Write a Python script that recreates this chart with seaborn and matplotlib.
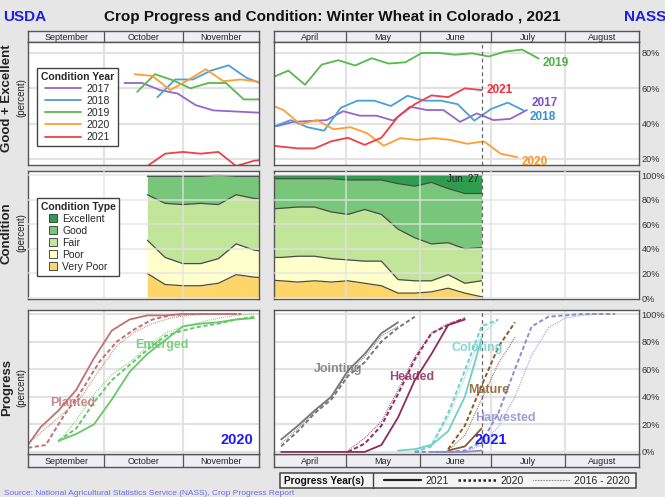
import numpy as np
import pandas as pd
import matplotlib.pyplot as plt
import seaborn as sns
from matplotlib.lines import Line2D
from matplotlib.patches import Patch, Rectangle

# Day numbers: fall side counts from Sep 1, spring side from Apr 1.
# Every series is weekly: (day of first report, weekly values in percent).

years = ['2017', '2018', '2019', '2020', '2021']
year_colors = ['#9467c9', '#4a9fd8', '#57b94c', '#ff9d33', '#ec4148']

# Good + Excellent for earlier crop years
ge_fall_2017 = (38, [63, 63, 59, 57, 50.5, 47.5, 47, 46.5, 46])
ge_fall_2018 = (51, [55, 65, 65, 70, 73, 66, 62])
ge_fall_2019 = (43, [58, 68, 64.6, 60, 63, 63, 53.7, 53.7])
ge_fall_2020 = (42, [68, 67, 59, 64.6, 70.8, 64, 65, 63.7])

ge_spring_2017 = (1, [38.5, 41, 41.5, 42, 47, 44.5, 44.5, 41.7, 49.6, 47.7, 47.7, 41, 45.8, 42, 42.7, 47.7])
ge_spring_2018 = (0, [38.4, 42, 38, 36, 49, 53, 53, 50, 55.8, 53, 53, 51, 41.7, 48.3, 51.9, 47.2])
ge_spring_2019 = (-1, [66, 70, 62, 73.4, 75.9, 72.9, 77, 74, 74.7, 80, 80, 79, 79.8, 78, 80.8, 81.9, 76.8])
ge_spring_2020 = (-3, [51.4, 47.7, 39.7, 42, 36.8, 38, 34.6, 27.5, 31.8, 30.8, 31.8, 30.8, 28.6, 30, 23, 21])

# 2021 crop condition (the 2021 Good + Excellent line is Excellent + Good)
cond_types = ['Excellent', 'Good', 'Fair', 'Poor', 'Very Poor']
cond_colors = ['#2e9e4e', '#78c679', '#c2e699', '#ffffcc', '#fdd56b']

cond_fall_start = 47
cond_fall_exc = [1, 1, 1, 1, 0, 1, 1, 1]
cond_fall_good = [15, 22, 23, 22, 24, 15, 18, 19]
cond_fall_fair = [37, 44, 48, 49, 44, 40, 42, 43]
cond_fall_poor = [27, 22, 18, 18, 20, 25, 22, 21]
cond_fall_vp = [20, 11, 10, 10, 12, 19, 17, 16]

cond_spring_start = -4
cond_spring_exc = [3, 3, 3, 3, 3, 4, 4, 4, 7, 9, 6, 11, 15, 15]
cond_spring_good = [25, 24, 23, 23, 27, 28, 24, 28, 37, 42, 50, 44, 45, 44]
cond_spring_fair = [39, 40, 40, 40, 38, 37, 42, 38, 41, 35, 30, 26, 28, 27]
cond_spring_poor = [18, 19, 21, 20, 19, 17, 18, 20, 11, 10, 9, 11, 8, 13]
cond_spring_vp = [15, 14, 13, 14, 13, 14, 12, 10, 4, 4, 5, 8, 4, 1]

# Progress
periods = ['2021', '2020', '2016 - 2020']
stage_colors = {'Planted': '#c07272', 'Emerged': '#66c866', 'Jointing': '#777777',
                'Headed': '#8e2c5c', 'Coloring': '#6fcfc9', 'Mature': '#8a5a2a',
                'Harvested': '#8c8cd0'}

planted_2021 = (-2, [0, 18, 30, 45, 68, 88, 96, 99, 99, 100, 100, 100, 100])
planted_2020 = (0, [3, 5, 26, 44, 65, 80, 89, 96, 99, 100, 100, 100, 100])
planted_avg = (0, [6, 17, 28, 40, 59, 77, 87, 93, 97, 99, 100, 100, 100])
emerged_2021 = (12, [8, 13, 20, 38, 58, 71, 81, 91, 93, 94, 96, 97])
emerged_2020 = (12, [8, 17, 36, 52, 63, 74, 84, 88, 91, 93, 96, 98])
emerged_avg = (12, [7, 23, 42, 56, 65, 76, 86, 91, 94, 97, 99, 100])

jointing_2021 = (3, [9, 19, 30, 40, 59, 71, 86, 94])
jointing_2020 = (3, [4, 15, 28, 38, 55, 65, 80, 90, 98])
jointing_avg = (3, [6, 17, 29, 40, 57, 69, 84, 91])
headed_2021 = (3, [0, 0, 0, 0, 0, 0, 5, 25, 52, 71, 92, 96])
headed_2020 = (31, [0, 6, 19, 42, 67, 86, 92, 97])
headed_avg = (31, [1, 10, 22, 45, 69, 86, 93, 97])
coloring_2021 = (52, [1, 2, 5, 15, 40, 82])
coloring_2020 = (59, [0, 4, 28, 59, 91, 96])
coloring_avg = (59, [1, 6, 25, 54, 85, 96])
mature_2021 = (73, [1, 4, 17])
mature_2020 = (73, [2, 19, 48, 76, 94])
mature_avg = (73, [1, 12, 38, 64, 83])
harvested_2021 = (66, [0, 0, 0, 1])
harvested_2020 = (59, [0, 0, 0, 1, 7, 28, 60, 91, 98, 99, 100, 100, 100])
harvested_avg = (80, [0, 5, 18, 40, 70, 90, 97, 99, 100])

last_report_day = 87  # Jun. 27

# ---------------------------------------------------------------------------
sns.set_style('white')
plt.rcParams['font.family'] = ['Liberation Sans', 'DejaVu Sans']

W, H = 665, 497
BG = '#e6e6e6'
EDGE = '#555555'
GRID = '#e2e2e2'

FALL = dict(x0=28, x1=259, span=91, edges=[0, 30, 61, 91],
            months=['September', 'October', 'November'])
SPRING = dict(x0=274, x1=639, span=153, edges=[0, 30, 61, 91, 122, 153],
              months=['April', 'May', 'June', 'July', 'August'])

fig = plt.figure(figsize=(W / 100, H / 100), dpi=100, facecolor=BG)


def box(x0, y0, x1, y1):
    return [x0 / W, 1 - y1 / H, (x1 - x0) / W, (y1 - y0) / H]


def long_frame(series, key):
    rows = []
    for name, (start, vals) in series.items():
        for i, v in enumerate(vals):
            rows.append({'day': start + 7 * i, 'pct': v, key: name})
    return pd.DataFrame(rows)


def long_progress(series):
    rows = []
    for (stage, period), (start, vals) in series.items():
        for i, v in enumerate(vals):
            rows.append({'day': start + 7 * i, 'pct': v, 'stage': stage, 'period': period})
    return pd.DataFrame(rows)


def month_strip(side, y0, y1):
    ax = fig.add_axes(box(side['x0'], y0, side['x1'], y1))
    ax.set_facecolor('#eeeef3')
    ax.set_xlim(0, side['span'])
    ax.set_ylim(0, 1)
    ax.set_xticks([])
    ax.set_yticks([])
    for e in side['edges'][1:-1]:
        ax.axvline(e, color=EDGE, lw=0.9)
    for a, b, m in zip(side['edges'][:-1], side['edges'][1:], side['months']):
        ax.text((a + b) / 2, 0.45, m, ha='center', va='center', fontsize=6.5, color='#222222')
    for s in ax.spines.values():
        s.set_color(EDGE)
        s.set_linewidth(1.0)


def style_panel(ax, side, ylim, yticks, labels, on_top=False):
    ax.set_xlim(0, side['span'])
    ax.set_ylim(*ylim)
    ax.set_xticks(side['edges'][1:-1])
    ax.set_yticks(yticks)
    ax.set_xlabel('')
    ax.set_ylabel('')
    ax.yaxis.tick_right()
    ax.tick_params(axis='x', length=0, labelbottom=False)
    ax.tick_params(axis='y', length=0, pad=2, labelsize=6.6, labelcolor='#333333',
                   labelright=labels, labelleft=False)
    if labels:
        ax.set_yticklabels([f'{t}%' for t in yticks])
    ax.set_axisbelow(not on_top)
    ax.grid(True, color=GRID, lw=1.5, alpha=0.65 if on_top else 1)
    for s in ax.spines.values():
        s.set_color(EDGE)
        s.set_linewidth(1.0)


def draw_condition(ax, start, layers):
    days = start + 7 * np.arange(len(layers[0]))
    tops = np.cumsum(np.vstack(layers), axis=0)
    bottoms = np.vstack([np.zeros(len(days)), tops[:-1]])
    for b, t, c in zip(bottoms, tops, cond_colors[::-1]):
        ax.fill_between(days, b, t, color=c, lw=0)
    for t in tops:
        ax.plot(days, t, color='#4a4a4a', lw=0.9)


ge_fall_2021 = (cond_fall_start, list(np.add(cond_fall_exc, cond_fall_good)))
ge_spring_2021 = (cond_spring_start, list(np.add(cond_spring_exc, cond_spring_good)))

# --- header ---
fig.text(0.5, 1 - 17 / H, 'Crop Progress and Condition: Winter Wheat in Colorado , 2021',
         ha='center', va='center', fontsize=11, weight='bold', color='#111111')
fig.text(3 / W, 1 - 17 / H, 'USDA', ha='left', va='center', fontsize=11, weight='bold', color='#1f1fe0')
fig.text(624 / W, 1 - 17 / H, 'NASS', ha='left', va='center', fontsize=11, weight='bold', color='#1f1fe0')

for side in (FALL, SPRING):
    month_strip(side, 31, 42)
    month_strip(side, 454, 467)

# --- row 1: Good + Excellent ---
ge_ylim = (16.6, 86.2)
ge_ticks = [20, 40, 60, 80]

ax = fig.add_axes(box(FALL['x0'], 42, FALL['x1'], 165))
df = long_frame({'2017': ge_fall_2017, '2018': ge_fall_2018, '2019': ge_fall_2019,
                 '2020': ge_fall_2020, '2021': ge_fall_2021}, 'year')
sns.lineplot(data=df, x='day', y='pct', hue='year', hue_order=years, palette=year_colors,
             estimator=None, sort=False, lw=1.3, ax=ax)
leg = ax.get_legend()
handles, labels = leg.legend_handles, [t.get_text() for t in leg.get_texts()]
ax.legend(handles, labels, loc='upper left', bbox_to_anchor=(0.017, 0.83), title='Condition Year',
          title_fontproperties={'weight': 'bold', 'size': 7.5}, fontsize=7.5, handlelength=3.5,
          handletextpad=0.5, labelspacing=0.2, borderpad=0.35, fancybox=False,
          edgecolor='#444444', framealpha=1)
style_panel(ax, FALL, ge_ylim, ge_ticks, labels=False)

ax = fig.add_axes(box(SPRING['x0'], 42, SPRING['x1'], 165))
df = long_frame({'2017': ge_spring_2017, '2018': ge_spring_2018, '2019': ge_spring_2019,
                 '2020': ge_spring_2020, '2021': ge_spring_2021}, 'year')
sns.lineplot(data=df, x='day', y='pct', hue='year', hue_order=years, palette=year_colors,
             estimator=None, sort=False, lw=1.3, legend=False, ax=ax)
ax.axvline(last_report_day, color='#666666', ls=(0, (3, 2.5)), lw=0.9)
label_pos = {'2019': (112.7, 74.3), '2021': (89.3, 59), '2017': (108, 51.7),
             '2018': (107, 43.7), '2020': (104, 18.2)}
label_colors = {'2017': '#7b4fc0', '2018': '#3a8fd0', '2019': '#4cb040', '2020': '#ff9424', '2021': '#e8323c'}
for yr, (x, y) in label_pos.items():
    ax.text(x, y, yr, ha='left', va='center', fontsize=8.5, weight='bold',
            color=label_colors[yr], clip_on=True)
style_panel(ax, SPRING, ge_ylim, ge_ticks, labels=True)

# --- row 2: condition ---
cond_ylim = (-0.8, 103.3)
cond_ticks = [0, 20, 40, 60, 80, 100]

ax = fig.add_axes(box(FALL['x0'], 171, FALL['x1'], 299))
draw_condition(ax, cond_fall_start, [cond_fall_vp, cond_fall_poor, cond_fall_fair,
                                     cond_fall_good, cond_fall_exc])
ax.legend([Patch(facecolor=c, edgecolor='#333333', lw=0.6) for c in cond_colors], cond_types,
          loc='upper left', bbox_to_anchor=(0.017, 0.83), title='Condition Type',
          title_fontproperties={'weight': 'bold', 'size': 7.5}, fontsize=7.5,
          handlelength=0.8, handleheight=0.8, handletextpad=0.5, labelspacing=0.2,
          borderpad=0.35, fancybox=False, edgecolor='#444444', framealpha=1)
style_panel(ax, FALL, cond_ylim, cond_ticks, labels=False, on_top=True)

ax = fig.add_axes(box(SPRING['x0'], 171, SPRING['x1'], 299))
draw_condition(ax, cond_spring_start, [cond_spring_vp, cond_spring_poor, cond_spring_fair,
                                       cond_spring_good, cond_spring_exc])
ax.axvline(last_report_day, color='#666666', ls=(0, (3, 2.5)), lw=0.9)
ax.text(last_report_day - 1, 101, 'Jun. 27', ha='right', va='top', fontsize=7, color='#222222')
style_panel(ax, SPRING, cond_ylim, cond_ticks, labels=True, on_top=True)

# --- row 3: progress ---
prog_ylim = (-1.5, 102.9)
dash_map = {'2021': '', '2020': (2.2, 1.3), '2016 - 2020': (0.6, 1.0)}
size_map = {'2021': 1.3, '2020': 1.4, '2016 - 2020': 0.9}

ax = fig.add_axes(box(FALL['x0'], 310, FALL['x1'], 454))
df = long_progress({('Planted', '2021'): planted_2021, ('Planted', '2020'): planted_2020,
                    ('Planted', '2016 - 2020'): planted_avg,
                    ('Emerged', '2021'): emerged_2021, ('Emerged', '2020'): emerged_2020,
                    ('Emerged', '2016 - 2020'): emerged_avg})
sns.lineplot(data=df, x='day', y='pct', hue='stage', style='period', size='period',
             palette=stage_colors, style_order=periods, size_order=periods,
             dashes=dash_map, sizes=size_map, estimator=None, sort=False, legend=False, ax=ax)
for name, (x, y) in {'Planted': (17.5, 35.7), 'Emerged': (52.6, 77.5)}.items():
    ax.text(x, y, name, ha='center', va='center', fontsize=9, weight='bold',
            color=stage_colors[name], alpha=0.85)
ax.text(88.6, 8.7, '2020', ha='right', va='center', fontsize=10.5, weight='bold', color='#1a1aff')
style_panel(ax, FALL, prog_ylim, cond_ticks, labels=False)

ax = fig.add_axes(box(SPRING['x0'], 310, SPRING['x1'], 454))
df = long_progress({('Jointing', '2021'): jointing_2021, ('Jointing', '2020'): jointing_2020,
                    ('Jointing', '2016 - 2020'): jointing_avg,
                    ('Headed', '2021'): headed_2021, ('Headed', '2020'): headed_2020,
                    ('Headed', '2016 - 2020'): headed_avg,
                    ('Coloring', '2021'): coloring_2021, ('Coloring', '2020'): coloring_2020,
                    ('Coloring', '2016 - 2020'): coloring_avg,
                    ('Mature', '2021'): mature_2021, ('Mature', '2020'): mature_2020,
                    ('Mature', '2016 - 2020'): mature_avg,
                    ('Harvested', '2021'): harvested_2021, ('Harvested', '2020'): harvested_2020,
                    ('Harvested', '2016 - 2020'): harvested_avg})
sns.lineplot(data=df, x='day', y='pct', hue='stage', style='period', size='period',
             palette=stage_colors, style_order=periods, size_order=periods,
             dashes=dash_map, sizes=size_map, estimator=None, sort=False, legend=False, ax=ax)
ax.axvline(last_report_day, color='#666666', ls=(0, (3, 2.5)), lw=0.9)
stage_labels = {'Jointing': (26.8, 60), 'Headed': (57.8, 54.3), 'Coloring': (85.1, 75.4),
                'Mature': (90.1, 45), 'Harvested': (96.8, 24.6)}
for name, (x, y) in stage_labels.items():
    ax.text(x, y, name, ha='center', va='center', fontsize=9, weight='bold',
            color=stage_colors[name], alpha=0.85)
ax.text(91, 8.7, '2021', ha='center', va='center', fontsize=10.5, weight='bold', color='#1a1aff')
style_panel(ax, SPRING, prog_ylim, cond_ticks, labels=True)

# --- side titles ---
for yc, name in [(98, 'Good + Excellent'), (233, 'Condition'), (388, 'Progress')]:
    fig.text(7 / W, 1 - yc / H, name, rotation=90, ha='center', va='center',
             fontsize=9.5, weight='bold', color='#222222')
    fig.text(21 / W, 1 - yc / H, '(percent)', rotation=90, ha='center', va='center',
             fontsize=7, color='#222222')

# --- progress year legend ---
fig.patches.append(Rectangle((280 / W, 1 - 488 / H), 356 / W, 15 / H, transform=fig.transFigure,
                             facecolor='#f4f4f4', edgecolor='#444444', lw=1.1))
fig.text(284 / W, 1 - 481 / H, 'Progress Year(s)', ha='left', va='center',
         fontsize=7.3, weight='bold', color='#111111')
fig.lines.append(Line2D([373 / W, 373 / W], [1 - 488 / H, 1 - 473 / H],
                        transform=fig.transFigure, color='#444444', lw=1.0))
year_handles = [Line2D([], [], color='#222222', lw=1.6),
                Line2D([], [], color='#222222', lw=1.8, ls=(0, (1, 1))),
                Line2D([], [], color='#666666', lw=0.8, ls=(0, (0.6, 0.8)))]
fig.legend(year_handles, periods, loc='center', bbox_to_anchor=(507 / W, 1 - 481 / H),
           ncol=3, frameon=False, fontsize=7.5, handlelength=3.6, handletextpad=0.4,
           columnspacing=0.9, borderpad=0)

fig.text(4 / W, 1 - 493.5 / H, 'Source: National Agricultural Statistics Service (NASS), Crop Progress Report',
         ha='left', va='center', fontsize=6, color='#6a6aee')

fig.savefig('out.png', dpi=100, facecolor=BG)
